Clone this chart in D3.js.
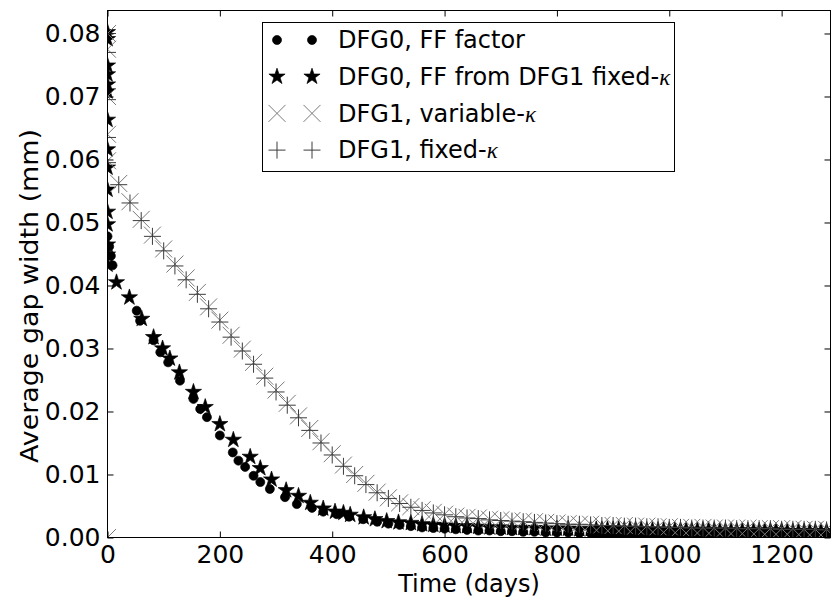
<!DOCTYPE html>
<html>
<head>
<meta charset="utf-8">
<script src="https://d3js.org/d3.v7.min.js"></script>
<style>
body { margin: 0; background: #fff; }
svg { display: block; font-family: 'DejaVu Sans', sans-serif; }
</style>
</head>
<body>
<svg id="chart" width="831" height="603"></svg>
<script>
// values (time in days, gap width in mm)

// DFG0, FF factor (dots)
var ffFactorT = [0, 3, 6, 9, 52, 58, 82, 94, 108, 129, 153, 165, 177, 200, 223, 233, 245, 260, 272, 289,
  316, 337, 364, 384, 408, 430, 455, 480, 500, 520, 540, 560, 580, 600, 620, 640, 660, 680, 700, 720,
  740, 760, 780, 800, 820, 840, 860, 870, 880, 890, 900, 910, 920, 930, 940, 950, 960, 970, 980, 990,
  1000, 1010, 1020, 1030, 1040, 1050, 1060, 1070, 1080, 1090, 1100, 1110, 1120, 1130, 1140, 1150, 1160,
  1170, 1180, 1190, 1200, 1210, 1220, 1230, 1240, 1250, 1260, 1270, 1280];
var ffFactorV = [0.0478, 0.0462, 0.0447, 0.0432, 0.0360, 0.0344, 0.0313, 0.0294, 0.0278, 0.0249, 0.0220, 0.0204, 0.0191, 0.0162, 0.0135, 0.0122, 0.0112, 0.0098, 0.0088, 0.0077,
  0.0064, 0.0053, 0.0047, 0.0041, 0.0037, 0.0033, 0.0029, 0.0025, 0.0022, 0.0020, 0.0018, 0.0016, 0.0015, 0.0014, 0.0013, 0.0012, 0.0011, 0.0011, 0.0010, 0.0010,
  0.0009, 0.0009, 0.0008, 0.0008, 0.0008, 0.0007, 0.0007, 0.0007, 0.0007, 0.0007, 0.0007, 0.0006, 0.0006, 0.0006, 0.0006, 0.0006, 0.0006, 0.0006, 0.0006, 0.0005,
  0.0005, 0.0005, 0.0005, 0.0005, 0.0005, 0.0005, 0.0005, 0.0005, 0.0005, 0.0004, 0.0004, 0.0004, 0.0004, 0.0004, 0.0004, 0.0004, 0.0004,
  0.0004, 0.0004, 0.0004, 0.0004, 0.0004, 0.0004, 0.0004, 0.0004, 0.0004, 0.0004, 0.0004, 0.0004];

// DFG0, FF from DFG1 fixed-kappa (stars)
var ffFixedT = [0, 0, 0, 0, 0, 0, 0, 0, 0, 0, 0, 0, 0, 0, 0, 16, 39, 61, 82, 98, 111, 128, 153, 174, 200,
  224, 254, 272, 292, 318, 340, 361, 384, 405, 420, 432, 456, 476, 497, 518, 540, 560, 580, 600, 620,
  640, 660, 680, 700, 720, 740, 760, 780, 800, 820, 840, 860, 870, 880, 890, 900, 910, 920, 930, 940,
  950, 960, 970, 980, 990, 1000, 1010, 1020, 1030, 1040, 1050, 1060, 1070, 1080, 1090, 1100, 1110, 1120,
  1130, 1140, 1150, 1160, 1170, 1180, 1190, 1200, 1210, 1220, 1230, 1240, 1250, 1260, 1270, 1280];
var ffFixedV = [0.0802, 0.0791, 0.0749, 0.0735, 0.0719, 0.0708, 0.0663, 0.0616, 0.0587, 0.0552, 0.0517, 0.0497, 0.0465, 0.0449, 0.0433, 0.0405, 0.0381, 0.0347, 0.0318, 0.0300, 0.0284, 0.0262, 0.0231, 0.0207, 0.0180,
  0.0155, 0.0128, 0.0110, 0.0092, 0.0075, 0.0066, 0.0055, 0.0046, 0.0041, 0.0039, 0.0036, 0.0032, 0.0029, 0.0026, 0.0024, 0.0023, 0.0021, 0.0020, 0.0019, 0.0018,
  0.0018, 0.0017, 0.0016, 0.0016, 0.0015, 0.0015, 0.0015, 0.0014, 0.0014, 0.0014, 0.0013, 0.0013, 0.0013, 0.0013, 0.0013, 0.0013, 0.0013, 0.0013, 0.0013, 0.0013,
  0.0013, 0.0012, 0.0012, 0.0012, 0.0012, 0.0012, 0.0012, 0.0012, 0.0012, 0.0012, 0.0012, 0.0012, 0.0012, 0.0012, 0.0011, 0.0011, 0.0011, 0.0011,
  0.0011, 0.0011, 0.0011, 0.0011, 0.0011, 0.0011, 0.0011, 0.0011, 0.0010, 0.0010, 0.0010, 0.0010, 0.0010, 0.0010, 0.0010, 0.0010];

// DFG1, variable-kappa (x)
var varKappaT = [0, 0, 0, 0, 0, 0, 20, 40, 60, 80, 100, 120, 140, 160, 180, 200, 220, 240, 260, 280, 300,
  320, 340, 360, 380, 400, 420, 440, 460, 480, 500, 520, 540, 560, 580, 600, 620, 640, 660, 680, 700,
  720, 740, 760, 780, 800, 820, 840, 860, 880, 900, 920, 940, 960, 980, 1000, 1020, 1040, 1060, 1080,
  1100, 1120, 1140, 1160, 1180, 1200, 1220, 1240, 1260, 1280];
var varKappaV = [0, 0.0800, 0.0775, 0.0700, 0.0640, 0.0598, 0.0562, 0.0533, 0.0505, 0.0480, 0.0458, 0.0434, 0.0412, 0.0389, 0.0366, 0.0345, 0.0321, 0.0299, 0.0278, 0.0256, 0.0234,
  0.0213, 0.0193, 0.0173, 0.0152, 0.0133, 0.0115, 0.0100, 0.0086, 0.0072, 0.0063, 0.0055, 0.0049, 0.0044, 0.0040, 0.0037, 0.0034, 0.0032, 0.0031, 0.0029, 0.0028,
  0.0027, 0.0026, 0.0025, 0.0024, 0.0023, 0.0022, 0.0021, 0.0021, 0.0020, 0.0019, 0.0019, 0.0018, 0.0018, 0.0017, 0.0017, 0.0016, 0.0016, 0.0016, 0.0015,
  0.0015, 0.0015, 0.0015, 0.0014, 0.0014, 0.0014, 0.0014, 0.0013, 0.0013, 0.0013];

// DFG1, fixed-kappa (+)
var fixKappaT = [0, 0, 0, 0, 0, 20, 40, 60, 80, 100, 120, 140, 160, 180, 200, 220, 240, 260, 280, 300,
  320, 340, 360, 380, 400, 420, 440, 460, 480, 500, 520, 540, 560, 580, 600, 620, 640, 660, 680, 700,
  720, 740, 760, 780, 800, 820, 840, 860, 880, 900, 920, 940, 960, 980, 1000, 1020, 1040, 1060, 1080,
  1100, 1120, 1140, 1160, 1180, 1200, 1220, 1240, 1260, 1280];
var fixKappaV = [0.0800, 0.0770, 0.0695, 0.0635, 0.0595, 0.0560, 0.0531, 0.0503, 0.0478, 0.0455, 0.0431, 0.0409, 0.0386, 0.0363, 0.0342, 0.0318, 0.0296, 0.0275, 0.0253, 0.0231,
  0.0210, 0.0190, 0.0170, 0.0150, 0.0131, 0.0113, 0.0098, 0.0084, 0.0071, 0.0062, 0.0054, 0.0048, 0.0043, 0.0039, 0.0036, 0.0033, 0.0031, 0.0030, 0.0028, 0.0027,
  0.0026, 0.0025, 0.0024, 0.0023, 0.0022, 0.0021, 0.0021, 0.0020, 0.0019, 0.0019, 0.0018, 0.0018, 0.0017, 0.0017, 0.0016, 0.0016, 0.0015, 0.0015, 0.0015,
  0.0015, 0.0014, 0.0014, 0.0014, 0.0014, 0.0013, 0.0013, 0.0013, 0.0013, 0.0012];

var xTicks = [0, 200, 400, 600, 800, 1000, 1200];
var yTicks = [0, 0.01, 0.02, 0.03, 0.04, 0.05, 0.06, 0.07, 0.08];
var legendLabels = ["DFG0, FF factor", "DFG0, FF from DFG1 fixed-", "DFG1, variable-", "DFG1, fixed-"];

// plot box
var pLeft = 107.5, pRight = 830.5, pTop = 10.5, pBottom = 537.5;
var svg = d3.select("#chart");

var x = d3.scaleLinear().domain([0, 1287]).range([pLeft, pRight]);
var y = d3.scaleLinear().domain([0, 0.08365]).range([pBottom, pTop]);

svg.append("defs").append("clipPath").attr("id", "plotclip")
  .append("rect").attr("x", pLeft).attr("y", pTop).attr("width", pRight - pLeft).attr("height", pBottom - pTop);

var ms = 8.5;           // half marker size
var starSize = ms * ms / 0.8908130915;  // d3 star area for outer radius ms

function pts(t, v) { return t.map(function(d, i) { return [d, v[i]]; }); }

// marker drawers (g at a point)
function drawDot(g) { g.append("circle").attr("r", 4.5).attr("fill", "#000").attr("stroke", "#000").attr("stroke-width", 0.7); }
function drawStar(g) { g.append("path").attr("d", d3.symbol(d3.symbolStar, starSize)()).attr("fill", "#000").attr("stroke", "#000").attr("stroke-width", 0.7); }
function drawX(g) { g.append("path").attr("d", "M" + (-ms) + "," + (-ms) + "L" + ms + "," + ms + "M" + (-ms) + "," + ms + "L" + ms + "," + (-ms)).attr("stroke", "#7a7a7a").attr("stroke-width", 1).attr("fill", "none"); }
function drawPlus(g) { g.append("path").attr("d", "M" + (-ms) + ",0L" + ms + ",0M0," + (-ms) + "L0," + ms).attr("stroke", "#3c3c3c").attr("stroke-width", 1).attr("fill", "none"); }

var series = [
  { data: pts(ffFactorT, ffFactorV), draw: drawDot },
  { data: pts(ffFixedT, ffFixedV), draw: drawStar },
  { data: pts(varKappaT, varKappaV), draw: drawX },
  { data: pts(fixKappaT, fixKappaV), draw: drawPlus }
];

var plot = svg.append("g").attr("clip-path", "url(#plotclip)");
series.forEach(function(s) {
  plot.append("g").selectAll("g").data(s.data).enter().append("g")
    .attr("transform", function(d) { return "translate(" + x(d[0]) + "," + y(d[1]) + ")"; })
    .each(function() { s.draw(d3.select(this)); });
});

// axes, ticks pointing inward on all four sides
var fs = 24;
svg.append("g").attr("transform", "translate(0," + pBottom + ")")
  .call(d3.axisBottom(x).tickValues(xTicks).tickFormat(d3.format("d")).tickSizeInner(-6).tickSizeOuter(0).tickPadding(8));
svg.append("g").attr("transform", "translate(" + pLeft + ",0)")
  .call(d3.axisLeft(y).tickValues(yTicks).tickFormat(d3.format(".2f")).tickSizeInner(-6).tickSizeOuter(0).tickPadding(7));
svg.append("g").attr("transform", "translate(0," + pTop + ")")
  .call(d3.axisTop(x).tickValues(xTicks).tickSizeInner(-6).tickSizeOuter(0).tickFormat(""));
svg.append("g").attr("transform", "translate(" + pRight + ",0)")
  .call(d3.axisRight(y).tickValues(yTicks).tickSizeInner(-6).tickSizeOuter(0).tickFormat(""));

svg.selectAll(".domain").remove();
svg.selectAll(".tick line").attr("stroke", "#000");
svg.selectAll(".tick text").attr("fill", "#000").style("font-family", "'DejaVu Sans', sans-serif").style("font-size", "25px");

// frame
svg.append("rect").attr("x", pLeft).attr("y", pTop).attr("width", pRight - pLeft).attr("height", pBottom - pTop)
  .attr("fill", "none").attr("stroke", "#000").attr("stroke-width", 1);

// axis titles (the picture is a bit taller than wide, so stretch the y title along its length)
svg.append("text").attr("transform", "translate(" + ((pLeft + pRight) / 2) + ",592) scale(1,1.06)")
  .attr("text-anchor", "middle").style("font-size", fs + "px").text("Time (days)");
svg.append("text").attr("transform", "translate(38,296) scale(1,1.12) rotate(-90)")
  .attr("text-anchor", "middle").style("font-size", fs + "px").text("Average gap width (mm)");

// legend
var lg = svg.append("g");
lg.append("rect").attr("x", 262.5).attr("y", 22.5).attr("width", 412).attr("height", 149)
  .attr("fill", "#fff").attr("stroke", "#000").attr("stroke-width", 1);
var drawers = [drawDot, drawStar, drawX, drawPlus];
legendLabels.forEach(function(lab, i) {
  var cy = 40 + i * 36.7;
  [277, 312].forEach(function(cx) {
    drawers[i](lg.append("g").attr("transform", "translate(" + cx + "," + cy + ")"));
  });
  var t = lg.append("text").attr("x", 338).attr("y", cy + 8.3).style("font-size", "24px").text(lab);
  if (i > 0) {
    t.append("tspan").style("font-family", "'Liberation Serif', serif").style("font-style", "italic")
      .style("font-size", "23px").text("κ");
  }
});
</script>
</body>
</html>
